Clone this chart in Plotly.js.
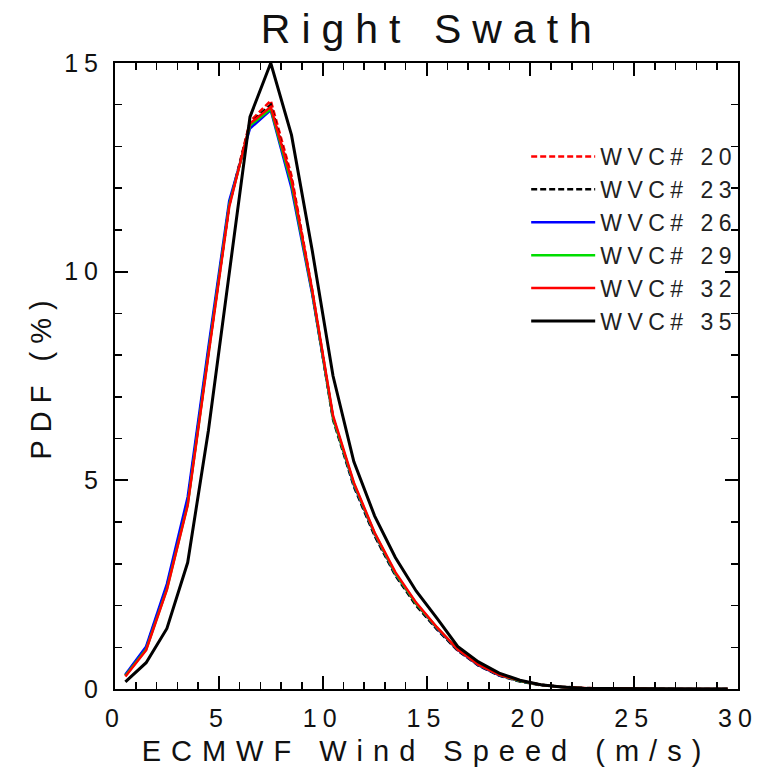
<!DOCTYPE html>
<html><head><meta charset="utf-8">
<script src="https://cdn.plot.ly/plotly-3.0.1.min.js"></script>
<style>
html,body{margin:0;padding:0;background:#fff;}
#chart{width:767px;height:767px;}
.gtitle{letter-spacing:11px;}
.xtick text,.ytick text{letter-spacing:6px;}
.xtitle{letter-spacing:10px;}
.ytitle{letter-spacing:8px;}
.legendtext{letter-spacing:5.5px;}
</style></head><body><div id="chart"></div>
<script>
const windSpeed = [0.5,1.5,2.5,3.5,4.5,5.5,6.5,7.5,8.5,9.5,10.5,11.5,12.5,13.5,14.5,15.5,16.5,17.5,18.5,19.5,20.5,21.5,22.5,23.5,24.5,25.5,26.5,27.5,28.5,29.5];
const wvc20 = [0.33,0.97,2.45,4.45,8.05,11.6,13.6,14.1,12.3,9.55,6.5,4.9,3.7,2.75,2.03,1.45,0.93,0.57,0.33,0.19,0.1,0.05,0.025,0.012,0.006,0.003,0.002,0.001,0.001,0];
const wvc23 = [0.33,0.99,2.47,4.5,8.1,11.6,13.55,14.0,12.2,9.5,6.45,4.85,3.67,2.72,2.0,1.43,0.92,0.56,0.32,0.18,0.09,0.05,0.024,0.012,0.006,0.003,0.002,0.001,0.001,0];
const wvc26 = [0.35,1.02,2.52,4.6,8.2,11.7,13.43,13.87,12.0,9.45,6.5,4.9,3.72,2.76,2.05,1.46,0.94,0.57,0.33,0.19,0.1,0.05,0.025,0.012,0.006,0.003,0.002,0.001,0.001,0];
const wvc29 = [0.32,0.95,2.4,4.42,8.05,11.6,13.5,13.9,12.1,9.5,6.5,4.92,3.73,2.77,2.05,1.47,0.95,0.58,0.34,0.19,0.1,0.05,0.025,0.012,0.006,0.003,0.002,0.001,0.001,0];
const wvc32 = [0.3,0.93,2.38,4.4,8.0,11.55,13.55,13.95,12.2,9.55,6.55,4.95,3.75,2.8,2.07,1.48,0.95,0.58,0.34,0.2,0.1,0.05,0.025,0.012,0.006,0.003,0.002,0.001,0.001,0];
const wvc35 = [0.17,0.63,1.45,3.03,6.2,10.0,13.71,15.0,13.27,10.5,7.5,5.45,4.15,3.15,2.35,1.7,1.02,0.65,0.38,0.21,0.1,0.05,0.02,0.01,0.005,0.002,0.001,0,0,0];
const seriesNames = ["WVC# 20","WVC# 23","WVC# 26","WVC# 29","WVC# 32","WVC# 35"];
const seriesValues = [wvc20,wvc23,wvc26,wvc29,wvc32,wvc35];
const seriesColors = ["#ff0000","#000000","#0000ff","#00dd00","#ff0000","#000000"];
const seriesDash = ["6px,3px","6px,3px","solid","solid","solid","solid"];
const seriesWidth = [2.5,2.5,2.5,2.5,2.5,3];

const traces = seriesValues.map((v,i)=>({
  type:'scatter', mode:'lines', x:windSpeed, y:v, name:seriesNames[i],
  line:{color:seriesColors[i], dash:seriesDash[i], width:seriesWidth[i]}
}));

const fontFam = '"Liberation Sans", Arial, sans-serif';
const axisCommon = {
  showgrid:false, zeroline:false, showline:true, linecolor:'#000', linewidth:2,
  mirror:'ticks', ticks:'inside', ticklen:13, tickwidth:2, tickcolor:'#000',
  minor:{dtick:1, ticks:'inside', ticklen:7, tickwidth:1.5, tickcolor:'#000', showgrid:false},
  tickfont:{family:fontFam, size:25, color:'#111'}
};
const layout = {
  width:767, height:767,
  margin:{l:115, r:29, t:63, b:78},
  paper_bgcolor:'#fff', plot_bgcolor:'#fff',
  title:{text:'Right Swath', font:{family:fontFam, size:41, color:'#111'}, x:0.563, xref:'container', xanchor:'center', y:0.963, yref:'container', yanchor:'middle'},
  xaxis:Object.assign({}, axisCommon, {range:[0,30], dtick:5, tick0:0,
    title:{text:'ECMWF Wind Speed (m/s)', font:{family:fontFam, size:29, color:'#111'}, standoff:12},
    ticklabelstandoff:6}),
  yaxis:Object.assign({}, axisCommon, {range:[0,15], dtick:5, tick0:0,
    title:{text:'PDF (%)', font:{family:fontFam, size:29, color:'#111'}, standoff:4},
    ticklabelstandoff:4}),
  showlegend:true,
  legend:{x:0.66, y:0.885, xanchor:'left', yanchor:'top', bgcolor:'rgba(0,0,0,0)', borderwidth:0,
    font:{family:fontFam, size:23, color:'#222'}, itemwidth:64, tracegroupgap:0}
};
Plotly.newPlot('chart', traces, layout, {displayModeBar:false, staticPlot:true});
</script></body></html>
